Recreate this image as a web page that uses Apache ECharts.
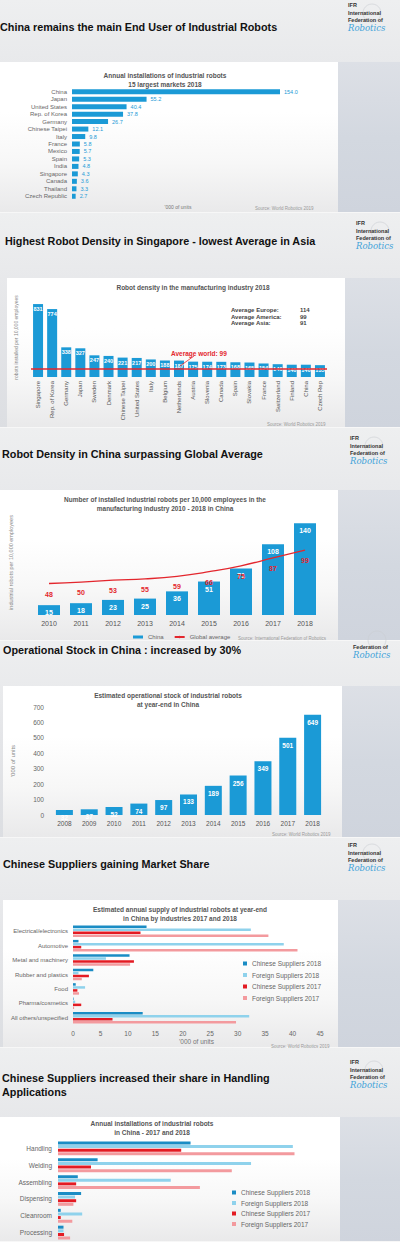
<!DOCTYPE html>
<html><head><meta charset="utf-8">
<script src="https://cdn.jsdelivr.net/npm/echarts/dist/echarts.min.js"></script>
<style>html,body{margin:0;padding:0;background:#e6e7ea}#c{width:400px;height:1242px}</style>
</head><body><div id="c"></div><script>
// ---------- DATA ----------
const marketCats = ['China','Japan','United States','Rep. of Korea','Germany','Chinese Taipei','Italy','France','Mexico','Spain','India','Singapore','Canada','Thailand','Czech Republic'];
const marketValues = [154.0,55.2,40.4,37.8,26.7,12.1,9.8,5.8,5.7,5.3,4.8,4.3,3.6,3.3,2.7];

const densityCats = ['Singapore','Rep. of Korea','Germany','Japan','Sweden','Denmark','Chinese Taipei','United States','Italy','Belgium','Netherlands','Austria','Slovenia','Canada','Spain','Slovakia','France','Switzerland','Finland','China','Czech Rep'];
const densityValues = [831,774,338,327,247,240,221,217,200,188,187,175,174,173,168,165,154,146,140,140,135];
const worldAverage = 99;
const regionAverageLabels = ['Average Europe:','Average America:','Average Asia:'];
const regionAverageValues = [114,99,91];

const chinaDensityYears = ['2010','2011','2012','2013','2014','2015','2016','2017','2018'];
const chinaDensity = [15,18,23,25,36,51,71,108,140];
const globalDensity = [48,50,53,55,59,66,75,87,99];

const stockYears = ['2008','2009','2010','2011','2012','2013','2014','2015','2016','2017','2018'];
const stockValues = [32,37,52,74,97,133,189,256,349,501,649];

const supplierNames = ['Chinese Suppliers 2018','Foreign Suppliers 2018','Chinese Suppliers 2017','Foreign Suppliers 2017'];
const industryCats = ['Electrical/electronics','Automotive','Metal and machinery','Rubber and plastics','Food','Pharma/cosmetics','All others/unspecified'];
const industryCn2018 = [13.4,1.0,10.3,3.7,0.5,0.1,12.7];
const industryFr2018 = [32.4,38.4,6.0,1.0,2.2,0.4,32.1];
const industryCn2017 = [12.3,1.5,11.1,2.9,0.8,1.5,7.2];
const industryFr2017 = [35.6,40.9,10.4,1.6,1.1,0.2,29.7];

const applicationCats = ['Handling','Welding','Assembling','Dispensing','Cleanroom','Processing'];
const appCn2018 = [24.1,7.2,3.6,4.2,0.5,1.0];
const appFr2018 = [42.7,35.1,20.5,3.1,4.4,1.0];
const appCn2017 = [22.4,6.0,3.3,3.3,0.5,1.1];
const appFr2017 = [43.0,31.6,25.8,2.8,2.6,2.2];

// ---------- STYLE ----------
const FONT = '"Liberation Sans", Arial, sans-serif';
const BLUE = '#1b9ad6';
const RED = '#e3262d';
const supplierColors = ['#1a8cc4','#8fd2ec','#e31b23','#f39a9e'];
const TITLE_SIZE = 10.8;

const g = [];
function txt(x, y, text, size, opts) {
  opts = opts || {};
  g.push({type:'text', x:x, y:y, z:100, silent:true, rotation: opts.rot || 0,
    style:{text:text, fill:opts.color || '#333', font:(opts.style||'') + ' ' + (opts.weight||'normal') + ' ' + size + 'px ' + (opts.family||FONT),
      textAlign:opts.align || 'left', textVerticalAlign:'middle'}});
}
function rect(x, y, w, h, fill, z) {
  g.push({type:'rect', z:z, silent:true, shape:{x:x,y:y,width:w,height:h}, style:{fill:fill}});
}
function vgrad(c) {
  return new echarts.graphic.LinearGradient(0,0,0,1,c.map((col,i)=>({offset:i/(c.length-1),color:col})));
}
function panel(y0, h, bx, by, bw, bh) {
  rect(0, y0, 400, h, vgrad(['#eeeff0','#e4e5e8','#dcdee2']), -30);
  rect(bx + bw, by, 400 - bx - bw, y0 + h - by, vgrad(['#dde0e6','#d3d8e0','#cfd4dd']), -20);
  rect(bx, by, bw, bh, vgrad(['#ffffff','#ffffff','#f7f7f7','#e9e9ea']), -20);
  rect(0, y0 + h - 1, 400, 1, '#f7f7f7', -10);
}
function logo(x, y, full) {
  g.push({type:'circle', z:-5, silent:true, shape:{cx:x+24, cy:y+8, r:9}, style:{fill:'none', stroke:'#c9ccd2', lineWidth:0.6}});
  if (full) {
    txt(x, y, 'IFR', 5.5, {weight:'bold', color:'#333'});
    txt(x, y + 7.5, 'International', 5.5, {weight:'bold', color:'#333'});
  }
  txt(x, y + 15, 'Federation of', 5.5, {weight:'bold', color:'#333'});
  txt(x, y + 23, 'Robotics', 8.5, {style:'italic', color:'#3fa3d9', family:'"DejaVu Serif", serif'});
}

// Panel 1
panel(0, 213, 0, 62, 338, 151);
txt(0, 27, 'China remains the main End User of Industrial Robots', TITLE_SIZE, {weight:'bold', color:'#111'});
logo(348, 5, true);
txt(165, 75, 'Annual installations of industrial robots', 6.5, {weight:'bold', color:'#555', align:'center'});
txt(165, 84.5, '15 largest markets 2018', 6.5, {weight:'bold', color:'#555', align:'center'});
txt(178, 207, "'000 of units", 5, {color:'#777', align:'center'});
txt(255, 208, 'Source: World Robotics 2019', 4.5, {color:'#999'});

// Panel 2
panel(213, 215, 7, 278, 338, 150);
txt(5, 241, 'Highest Robot Density in Singapore - lowest Average in Asia', TITLE_SIZE, {weight:'bold', color:'#111'});
logo(356, 223, true);
txt(193, 287, 'Robot density in the manufacturing industry 2018', 6.5, {weight:'bold', color:'#555', align:'center'});
regionAverageLabels.forEach((l,i)=>{ txt(231, 310 + i*6.5, l, 6, {weight:'bold', color:'#444'}); txt(300, 310 + i*6.5, String(regionAverageValues[i]), 6, {weight:'bold', color:'#444'}); });
txt(171, 353, 'Average world: ' + worldAverage, 6.5, {weight:'bold', color:RED});
g.push({type:'line', z:100, silent:true, shape:{x1:194,y1:356,x2:180,y2:366}, style:{stroke:RED, lineWidth:0.8}});
txt(267, 424, 'Source: World Robotics 2019', 4.5, {color:'#999'});

// Panel 3
panel(428, 213, 0, 490, 338, 151);
txt(2, 454, 'Robot Density in China surpassing Global Average', TITLE_SIZE, {weight:'bold', color:'#111'});
logo(350, 438, true);
txt(165, 499.5, 'Number of installed industrial robots per 10,000 employees in the', 6.5, {weight:'bold', color:'#555', align:'center'});
txt(165, 508.5, 'manufacturing industry 2010 - 2018 in China', 6.5, {weight:'bold', color:'#555', align:'center'});
txt(238, 638, 'Source: International Federation of Robotics', 4.5, {color:'#999'});

// Panel 4
panel(641, 197, 3, 686, 339, 152);
txt(3, 650, 'Operational Stock in China : increased by 30%', TITLE_SIZE, {weight:'bold', color:'#111'});
logo(353, 632, false);
txt(168, 695.5, 'Estimated operational stock of industrial robots', 6.5, {weight:'bold', color:'#555', align:'center'});
txt(168, 704.5, 'at year-end in China', 6.5, {weight:'bold', color:'#555', align:'center'});
txt(272, 834, 'Source: World Robotics 2019', 4.5, {color:'#999'});

// Panel 5
panel(838, 210, 3, 900, 335, 148);
txt(3, 864, 'Chinese Suppliers gaining Market Share', TITLE_SIZE, {weight:'bold', color:'#111'});
logo(348, 845, true);
txt(180, 909, 'Estimated annual supply of industrial robots at year-end', 6.5, {weight:'bold', color:'#555', align:'center'});
txt(180, 918, 'in China by industries 2017 and 2018', 6.5, {weight:'bold', color:'#555', align:'center'});
txt(271, 1046, 'Source: World Robotics 2019', 4.5, {color:'#999'});

// Panel 6
panel(1048, 194, 0, 1117, 340, 125);
txt(2, 1078, 'Chinese Suppliers increased their share in Handling', TITLE_SIZE, {weight:'bold', color:'#111'});
txt(2, 1092, 'Applications', TITLE_SIZE, {weight:'bold', color:'#111'});
logo(350, 1062, true);
txt(152, 1123.5, 'Annual installations of industrial robots', 6.5, {weight:'bold', color:'#555', align:'center'});
txt(152, 1132, 'in China - 2017 and 2018', 6.5, {weight:'bold', color:'#555', align:'center'});

const hid = () => ({show:false});
const catLabel = (size, extra) => Object.assign({show:true, interval:0, fontSize:size, color:'#666', fontFamily:FONT}, extra||{});

const option = {
  animation:false,
  textStyle:{fontFamily:FONT},
  graphic:{elements:g},
  grid:[
    {left:72, top:88, width:208, height:112},
    {left:31, top:298, width:296, height:79},
    {left:33, top:510, width:288, height:105},
    {left:52, top:707, width:273, height:108},
    {left:73, top:924, width:247, height:101},
    {left:58, top:1140, width:247.5, height:101}
  ],
  xAxis:[
    {gridIndex:0, type:'value', min:0, max:154, show:false},
    {gridIndex:1, type:'category', data:densityCats, axisLine:hid(), axisTick:hid(), axisLabel:catLabel(6,{rotate:90, margin:4, color:'#555'})},
    {gridIndex:2, type:'category', data:chinaDensityYears, axisLine:hid(), axisTick:hid(), axisLabel:catLabel(7,{margin:5, color:'#555'})},
    {gridIndex:3, type:'category', data:stockYears, axisLine:hid(), axisTick:hid(), axisLabel:catLabel(6.5,{margin:5, color:'#555'})},
    {gridIndex:4, type:'value', min:0, max:45, interval:5, axisLine:hid(), axisTick:hid(), splitLine:hid(),
      axisLabel:{fontSize:6.5, color:'#666', margin:5}, name:"'000 of units", nameLocation:'middle', nameGap:13, nameTextStyle:{fontSize:6.5, color:'#777'}},
    {gridIndex:5, type:'value', min:0, max:45, show:false}
  ],
  yAxis:[
    {gridIndex:0, type:'category', data:marketCats, inverse:true, axisLine:hid(), axisTick:hid(), axisLabel:catLabel(6,{margin:5})},
    {gridIndex:1, type:'value', min:0, max:900, axisLine:hid(), axisTick:hid(), splitLine:hid(), axisLabel:hid(),
      name:'robots installed per 10,000 employees', nameLocation:'middle', nameRotate:90, nameGap:13, nameTextStyle:{fontSize:5, color:'#888'}},
    {gridIndex:2, type:'value', min:0, max:160, axisLine:hid(), axisTick:hid(), splitLine:hid(), axisLabel:hid(),
      name:'industrial robots per 10,000 employees', nameLocation:'middle', nameRotate:90, nameGap:19, nameTextStyle:{fontSize:5.5, color:'#888'}},
    {gridIndex:3, type:'value', min:0, max:700, interval:100, axisLine:hid(), axisTick:hid(), splitLine:hid(),
      axisLabel:{fontSize:6.5, color:'#666', margin:8}, name:"'000 of units", nameLocation:'middle', nameRotate:90, nameGap:36, nameTextStyle:{fontSize:6, color:'#888'}},
    {gridIndex:4, type:'category', data:industryCats, inverse:true, axisLine:hid(), axisTick:hid(), axisLabel:catLabel(6,{margin:5})},
    {gridIndex:5, type:'category', data:applicationCats, inverse:true, axisLine:hid(), axisTick:hid(), axisLabel:catLabel(6.5,{margin:6})}
  ],
  legend:[
    {data:[{name:'China', icon:'rect'},'Global average'], left:128, top:629, itemWidth:10, itemHeight:3, itemGap:10,
      textStyle:{fontSize:6, color:'#666'}},
    {data:supplierNames, orient:'vertical', left:243, top:960, icon:'rect', itemWidth:4, itemHeight:4, itemGap:4.5,
      textStyle:{fontSize:6.5, color:'#666'}, padding:0},
    {data:supplierNames, orient:'vertical', left:232, top:1189, icon:'rect', itemWidth:4, itemHeight:4, itemGap:3.5,
      textStyle:{fontSize:6.5, color:'#666'}, padding:0}
  ],
  series:[
    {type:'bar', xAxisIndex:0, yAxisIndex:0, data:marketValues, barWidth:5, itemStyle:{color:BLUE},
      label:{show:true, position:'right', distance:4, fontSize:5.5, color:BLUE, formatter:p=>p.value.toFixed(1)}},
    {type:'bar', xAxisIndex:1, yAxisIndex:1, data:densityValues, barWidth:10, itemStyle:{color:BLUE},
      label:{show:true, position:'insideTop', distance:2, fontSize:5.5, color:'#fff', fontWeight:'bold'},
      markLine:{silent:true, symbol:'none', data:[{yAxis:worldAverage}], lineStyle:{color:RED, width:1.5, type:'solid'}, label:{show:false}}},
    {type:'bar', name:'China', xAxisIndex:2, yAxisIndex:2, data:chinaDensity, barWidth:22, itemStyle:{color:BLUE},
      label:{show:true, position:'insideTop', distance:4, fontSize:7, color:'#fff', fontWeight:'bold'}},
    {type:'line', name:'Global average', xAxisIndex:2, yAxisIndex:2, data:globalDensity, smooth:true, symbol:'circle', symbolSize:0.01,
      showSymbol:true, lineStyle:{color:RED, width:1.3}, itemStyle:{color:RED}, z:5,
      label:{show:true, position:'bottom', distance:7, fontSize:7, color:RED, fontWeight:'bold'}},
    {type:'bar', xAxisIndex:3, yAxisIndex:3, data:stockValues, barWidth:17, itemStyle:{color:BLUE},
      label:{show:true, position:'insideTop', distance:4, fontSize:6.5, color:'#fff', fontWeight:'bold'}},
  ]
};
const industrySets = [industryCn2018, industryFr2018, industryCn2017, industryFr2017];
industrySets.forEach((d,i)=>option.series.push({type:'bar', name:supplierNames[i], xAxisIndex:4, yAxisIndex:4, data:d,
  barWidth:2.5, barGap:'20%', itemStyle:{color:supplierColors[i]}}));
const appSets = [appCn2018, appFr2018, appCn2017, appFr2017];
appSets.forEach((d,i)=>option.series.push({type:'bar', name:supplierNames[i], xAxisIndex:5, yAxisIndex:5, data:d,
  barWidth:3, barGap:'20%', itemStyle:{color:supplierColors[i]}}));

const chart = echarts.init(document.getElementById('c'), null, {renderer:'svg'});
chart.setOption(option);
</script></body></html>
